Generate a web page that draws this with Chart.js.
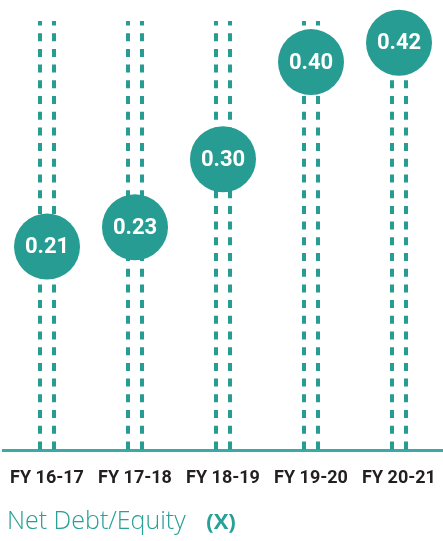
<!DOCTYPE html>
<html lang="en">
    <head>
        <meta charset="UTF-8" />
        <title>Net Debt/Equity</title>
        <script src="https://cdn.jsdelivr.net/npm/chart.js"></script>
        <style>
            body { margin: 0; background: #fff; }
            .wrap { width: 443px; height: 541px; position: relative; overflow: hidden; }
            .caption {
                position: absolute;
                left: 7px;
                top: 504px;
                font-family: "Open Sans", sans-serif;
                font-weight: 300;
                font-size: 25px;
                line-height: 30px;
                color: #27a096;
                white-space: nowrap;
            }
            .caption b { font-weight: 700; margin-left: 14px; font-size: 22px; }
        </style>
    </head>
    <body>
        <div class="wrap">
            <canvas id="debtChart" width="443" height="506"></canvas>
            <div class="caption">Net Debt/Equity <b>(X)</b></div>
        </div>

        <script>
            const years = ['FY 16-17', 'FY 17-18', 'FY 18-19', 'FY 19-20', 'FY 20-21'];
            const ratios = [0.21, 0.23, 0.30, 0.40, 0.42];

            const teal = '#279c92';

            // double dotted stems behind every bubble
            const stems = {
                id: 'stems',
                beforeDatasetsDraw(chart) {
                    const { ctx, chartArea, scales } = chart;
                    ctx.save();
                    ctx.strokeStyle = teal;
                    ctx.lineWidth = 4;
                    ctx.setLineDash([8, 7.7]);
                    years.forEach((y, i) => {
                        const cx = scales.x.getPixelForValue(i);
                        [-7, 7].forEach(dx => {
                            ctx.beginPath();
                            ctx.moveTo(cx + dx, chartArea.bottom - 1);
                            ctx.lineTo(cx + dx, chartArea.top + 21);
                            ctx.stroke();
                        });
                    });
                    ctx.restore();
                }
            };

            // value text inside the bubbles
            const bubbleText = {
                id: 'bubbleText',
                afterDatasetsDraw(chart) {
                    const { ctx } = chart;
                    const meta = chart.getDatasetMeta(0);
                    ctx.save();
                    ctx.fillStyle = '#ffffff';
                    ctx.font = 'bold 22px Roboto';
                    ctx.textAlign = 'center';
                    ctx.textBaseline = 'middle';
                    meta.data.forEach((pt, i) => {
                        ctx.fillText(ratios[i].toFixed(2), pt.x, pt.y + 1);
                    });
                    ctx.restore();
                }
            };

            new Chart(document.getElementById('debtChart'), {
                type: 'line',
                data: {
                    labels: years,
                    datasets: [{
                        data: ratios,
                        showLine: false,
                        clip: false,
                        pointRadius: 33,
                        pointHoverRadius: 33,
                        pointBorderWidth: 0,
                        pointBackgroundColor: teal,
                        pointBorderColor: teal
                    }]
                },
                options: {
                    responsive: false,
                    animation: false,
                    events: [],
                    layout: {
                        autoPadding: false,
                        padding: { left: 3, right: -3, top: 0, bottom: 0 }
                    },
                    plugins: {
                        legend: { display: false },
                        tooltip: { enabled: false }
                    },
                    scales: {
                        x: {
                            offset: true,
                            grid: { display: false, drawTicks: false },
                            border: { display: true, color: '#3aaba1', width: 3 },
                            ticks: {
                                color: '#231f20',
                                padding: 17,
                                autoSkip: false,
                                minRotation: 0,
                                maxRotation: 0,
                                font: { family: 'Roboto', size: 18, weight: 'bold' }
                            },
                            // labels sit inside their slots, so drop the edge padding
                            afterFit(scale) {
                                scale.paddingLeft = 0;
                                scale.paddingRight = 0;
                            }
                        },
                        y: {
                            display: false,
                            min: 0,
                            max: 0.464
                        }
                    }
                },
                plugins: [stems, bubbleText]
            });
        </script>
    </body>
</html>
